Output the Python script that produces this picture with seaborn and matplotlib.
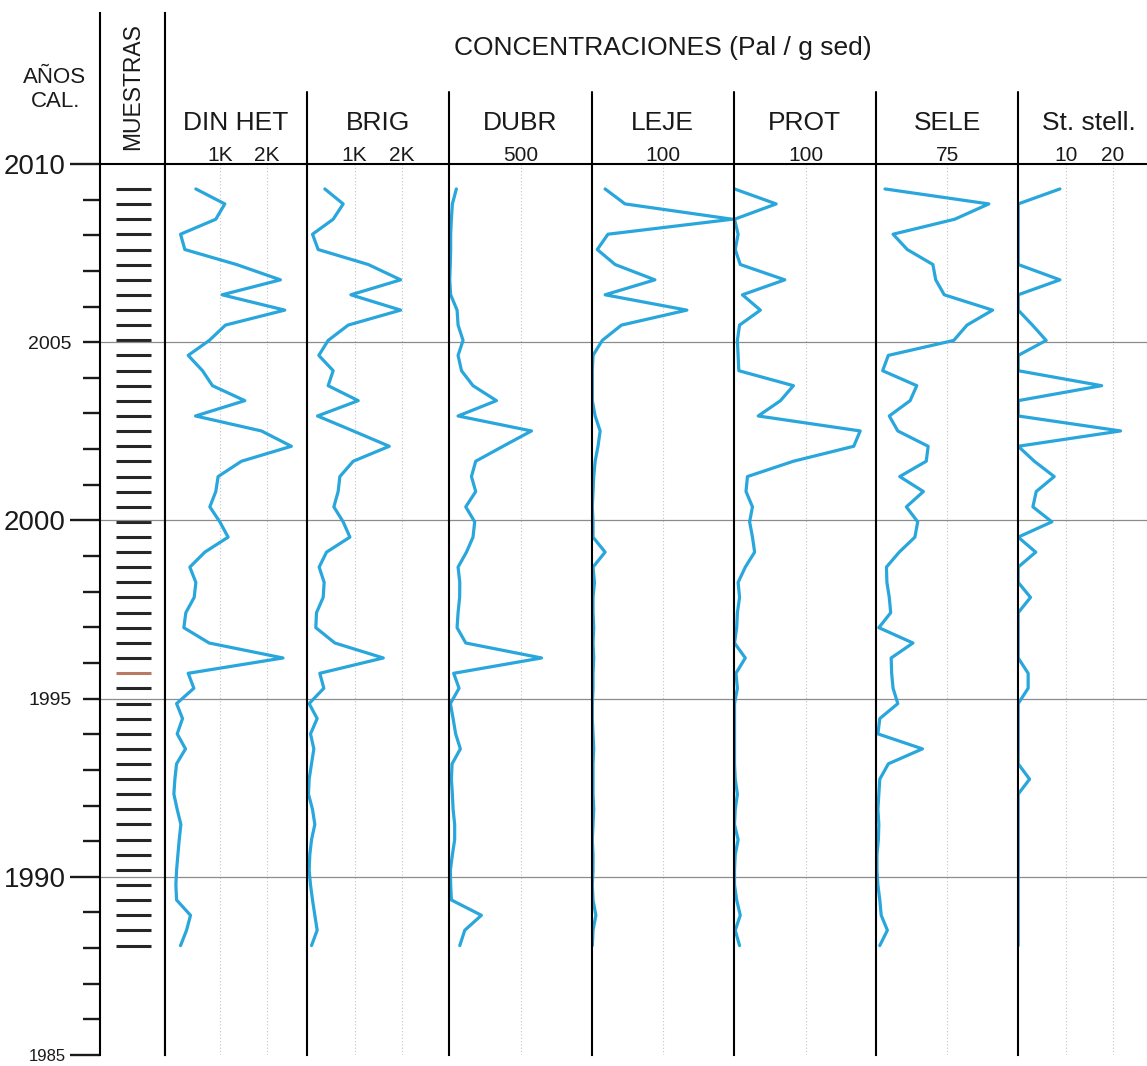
import numpy as np
import pandas as pd
import seaborn as sns
import matplotlib.pyplot as plt

# edades calibradas de las muestras (años)
ages = [2009.30, 2008.88, 2008.45, 2008.03, 2007.60, 2007.18, 2006.75, 2006.33, 2005.90, 2005.48,
        2005.05, 2004.63, 2004.20, 2003.78, 2003.36, 2002.93, 2002.51, 2002.08, 2001.66, 2001.23,
        2000.81, 2000.38, 1999.96, 1999.53, 1999.11, 1998.69, 1998.26, 1997.84, 1997.41, 1996.99,
        1996.56, 1996.14, 1995.71, 1995.29, 1994.86, 1994.44, 1994.01, 1993.59, 1993.17, 1992.74,
        1992.32, 1991.89, 1991.47, 1991.04, 1990.62, 1990.19, 1989.77, 1989.35, 1988.92, 1988.50,
        1988.07]

# concentraciones (Pal / g sed)
din_het = [493, 1106, 915, 169, 260, 1353, 2283, 1049, 2374, 1120, 777, 331, 634, 845, 1529, 486, 1881,
           2515, 1458, 964, 915, 789, 1000, 1176, 683, 366, 493, 458, 281, 239, 774, 2338, 331, 451, 85,
           211, 98, 274, 85, 49, 28, 98, 176, 141, 113, 85, 70, 85, 380, 296, 169]
brig = [372, 759, 548, 112, 231, 1288, 1972, 922, 1972, 865, 442, 245, 548, 442, 1076, 218, 971, 1731,
        971, 689, 653, 562, 759, 901, 408, 252, 358, 337, 196, 182, 584, 1605, 266, 351, 41, 210, 70,
        140, 91, 41, 27, 112, 161, 91, 55, 41, 70, 112, 161, 210, 91]
dubr = [49, 21, 14, 9, 9, 6, 2, 9, 54, 61, 96, 61, 85, 166, 331, 61, 577, 377, 185, 155, 185, 115, 178,
        166, 120, 61, 73, 72, 61, 54, 115, 648, 30, 68, 7, 26, 44, 77, 19, 14, 21, 26, 37, 37, 21, 7, 9,
        14, 225, 108, 73]
leje = [19, 47, 198, 23, 8, 33, 89, 19, 134, 42, 15, 2, 1, 1, 1, 5, 12, 9, 5, 3, 2, 1, 2, 2, 19, 2, 4,
        2, 2, 3, 2, 3, 2, 2, 1, 1, 2, 3, 2, 2, 2, 3, 2, 1, 2, 2, 1, 2, 6, 2, 1]
prot = [1, 59, 1, 6, 2, 9, 71, 12, 37, 8, 5, 6, 7, 83, 65, 34, 176, 167, 83, 19, 17, 26, 22, 26, 29, 16,
        6, 8, 5, 4, 1, 16, 3, 5, 1, 1, 1, 1, 1, 2, 5, 2, 1, 6, 2, 1, 1, 4, 9, 2, 8]
sele = [9.5, 119, 83, 18, 33, 60, 63, 72, 123, 96, 82, 13, 7, 43, 36, 14, 23, 55, 53, 25, 50, 32, 44, 41,
        24.5, 11, 11.5, 14, 15.5, 3, 39, 16, 16.5, 18, 23, 4, 2, 49, 13, 4, 3, 2, 3, 2.5, 1, 1, 2, 4,
        5.5, 12, 4]
st_stell = [8.8, 0, 0, 0, 0, 0, 8.8, 0, 0, 3, 5.9, 0, 0, 17.6, 0, 0, 21.6, 0, 3.4, 7.6, 3.8, 3.1, 7.1,
            0, 3.7, 0, 0, 2.6, 0, 0, 0, 0, 2.1, 2.1, 0, 0, 0, 0, 0, 2.4, 0, 0, 0, 0, 0, 0, 0, 0, 0, 0, 0]

taxa = ['DIN HET', 'BRIG', 'DUBR', 'LEJE', 'PROT', 'SELE', 'St. stell.']
scale_ticks = [[1000, 2000], [1000, 2000], [500], [100], [100], [75], [10, 20]]
scale_labels = [['1K', '2K'], ['1K', '2K'], ['500'], ['100'], ['100'], ['75'], ['10', '20']]
x_limits = [(-160, 2850), (0, 3000), (0, 1000), (0, 200), (0, 198), (0, 150), (0, 30)]

df = pd.DataFrame({'age': ages, 'DIN HET': din_het, 'BRIG': brig, 'DUBR': dubr, 'LEJE': leje,
                   'PROT': prot, 'SELE': sele, 'St. stell.': st_stell})

sns.set_theme(style='white', rc={'text.color': '#1a1a1a', 'xtick.color': '#1a1a1a',
                                 'ytick.color': '#1a1a1a', 'axes.edgecolor': 'black'})
plt.rcParams['font.family'] = ['Liberation Sans', 'DejaVu Sans']

W, H = 1147, 1066
fig = plt.figure(figsize=(W / 100, H / 100), dpi=100)


def box(x0, y0, w, h):
    # caja en pixeles (desde arriba a la izquierda) -> fraccion de figura
    return [x0 / W, 1 - (y0 + h) / H, w / W, h / H]


line_col = '#29a6dc'
grid_col = '#8c8c8c'
px_year = 891 / 25

# columna de edades + muestras
ax0 = fig.add_axes(box(100, 13, 65, 1042))
ax0.set_xlim(0, 1)
ax0.set_ylim(1985, 2010 + 151 / px_year)
tick_cols = ['#262626'] * len(ages)
tick_cols[32] = '#b87a63'
ax0.hlines(ages, 0.25, 0.78, colors=tick_cols, lw=2.2)
ax0.axhline(2010, color='black', lw=1.5)
for yy in [2005, 2000, 1995, 1990]:
    ax0.axhline(yy, color=grid_col, lw=0.9)
ax0.set_xticks([])
major = [1985, 1990, 2000, 2010]
ax0.set_yticks(major, labels=[str(y) for y in major])
minor = [y for y in range(1986, 2010) if y not in major]
ax0.set_yticks(minor, labels=[str(y) if y in (1995, 2005) else '' for y in minor], minor=True)
ax0.tick_params(axis='y', which='major', left=True, length=21.6, width=1.7, labelsize=20, pad=3)
ax0.tick_params(axis='y', which='minor', left=True, length=12.5, width=1.7, labelsize=14, pad=8)
for lbl in ax0.get_yticklabels():
    if lbl.get_text() == '1985':
        lbl.set_fontsize(12)
for s in ['top', 'bottom']:
    ax0.spines[s].set_visible(False)
for s in ['left', 'right']:
    ax0.spines[s].set_linewidth(1.5)
    ax0.spines[s].set_color('black')

fig.text(55 / W, 1 - 83 / H, 'AÑOS', ha='center', va='baseline', fontsize=16)
fig.text(56 / W, 1 - 107 / H, 'CAL.', ha='center', va='baseline', fontsize=16)
fig.text(132.5 / W, 1 - 87 / H, 'MUESTRAS', ha='center', va='center', rotation=90, fontsize=16.5)
fig.text(663 / W, 1 - 55 / H, 'CONCENTRACIONES (Pal / g sed)', ha='center', va='baseline', fontsize=19)

# paneles de concentraciones
for k, name in enumerate(taxa):
    ax = fig.add_axes(box(165 + 142.2 * k, 164, 142.2, 891))
    sns.lineplot(data=df, x=name, y='age', sort=False, estimator=None, color=line_col, lw=2.3, ax=ax)
    ax.set(xlabel='', ylabel='')
    ax.set_xlim(*x_limits[k])
    ax.set_ylim(1985, 2010)
    ax.set_xticks(scale_ticks[k], labels=scale_labels[k])
    ax.xaxis.tick_top()
    ax.tick_params(axis='x', length=0, pad=-1, labelsize=15, labeltop=True, labelbottom=False)
    ax.set_yticks([1990, 1995, 2000, 2005])
    ax.tick_params(axis='y', left=False, labelleft=False)
    ax.grid(axis='y', color=grid_col, lw=0.9, ls='-')
    ax.grid(axis='x', color='#c4c4c4', lw=0.8, ls=(0, (1, 2)))
    ax.spines['right'].set_visible(False)
    ax.spines['bottom'].set_visible(False)
    for s in ['top', 'left']:
        ax.spines[s].set_linewidth(1.5)
        ax.spines[s].set_color('black')
    if k > 0:
        ax.axvline(x_limits[k][0], ymin=1, ymax=1 + 72 / 891, color='black', lw=1.5, clip_on=False)
    ax.text(0.5, 1 + 34 / 891, name, transform=ax.transAxes, ha='center', va='baseline', fontsize=19)

fig.savefig('out.png', dpi=100)
